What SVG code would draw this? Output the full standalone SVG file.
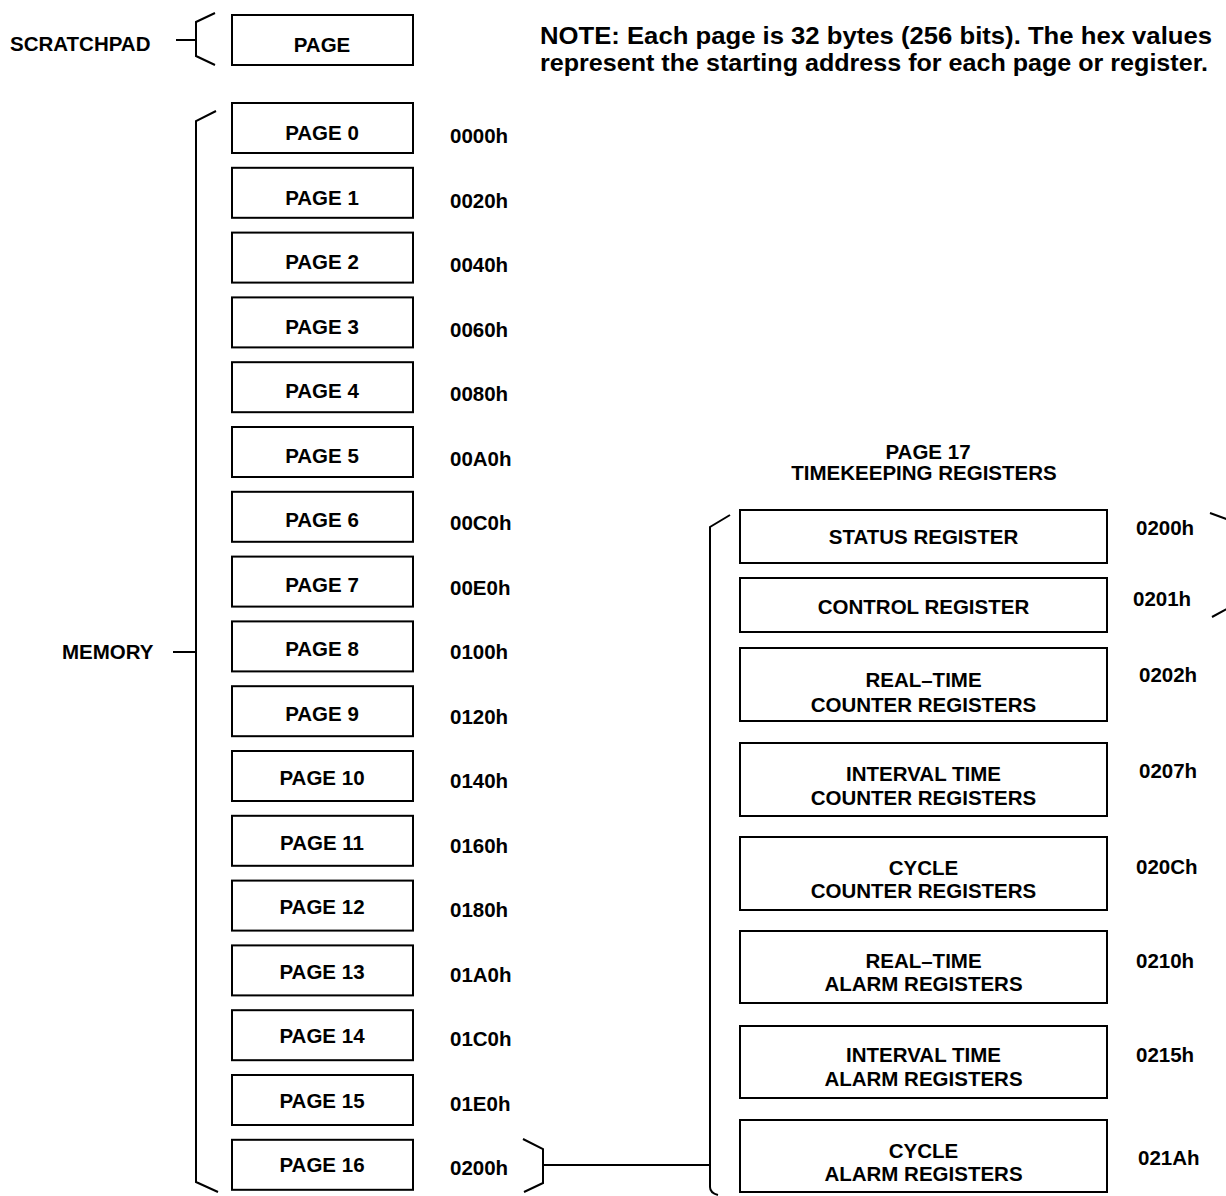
<svg xmlns="http://www.w3.org/2000/svg" width="1226" height="1196" viewBox="0 0 1226 1196">
<style>
.b{fill:#fff;stroke:#000;stroke-width:2}
.l{fill:none;stroke:#000;stroke-width:2}
.t{font-family:"Liberation Sans",Arial,sans-serif;font-weight:bold;font-size:20.5px;fill:#000}
.c{text-anchor:middle}
.n{font-family:"Liberation Sans",Arial,sans-serif;font-weight:bold;font-size:24px;fill:#000}
</style>
<rect width="1226" height="1196" fill="#fff"/>
<g id="note"><text class="n" x="540" y="44" textLength="672" lengthAdjust="spacingAndGlyphs">NOTE: Each page is 32 bytes (256 bits). The hex values</text><text class="n" x="540" y="71" textLength="668" lengthAdjust="spacingAndGlyphs">represent the starting address for each page or register.</text></g>
<g id="scratchpad-label"><text class="t" x="10" y="51">SCRATCHPAD</text></g>
<g id="memory-label"><text class="t" x="62" y="659">MEMORY</text></g>
<g id="page17-title"><text class="t c" x="928" y="459">PAGE 17</text><text class="t c" x="924" y="480">TIMEKEEPING REGISTERS</text></g>
<g id="scratch-page"><rect class="b" x="232" y="15" width="181" height="50"/><text class="t c" x="322" y="51.5">PAGE</text></g>
<g id="page0"><rect class="b" x="232" y="103" width="181" height="50"/><text class="t c" x="322" y="140">PAGE 0</text><text class="t" x="450" y="143">0000h</text></g>
<g id="page1"><rect class="b" x="232" y="167.8" width="181" height="50"/><text class="t c" x="322" y="204.5">PAGE 1</text><text class="t" x="450" y="207.5">0020h</text></g>
<g id="page2"><rect class="b" x="232" y="232.6" width="181" height="50"/><text class="t c" x="322" y="269">PAGE 2</text><text class="t" x="450" y="272">0040h</text></g>
<g id="page3"><rect class="b" x="232" y="297.4" width="181" height="50"/><text class="t c" x="322" y="333.5">PAGE 3</text><text class="t" x="450" y="336.5">0060h</text></g>
<g id="page4"><rect class="b" x="232" y="362.2" width="181" height="50"/><text class="t c" x="322" y="398">PAGE 4</text><text class="t" x="450" y="401">0080h</text></g>
<g id="page5"><rect class="b" x="232" y="427" width="181" height="50"/><text class="t c" x="322" y="462.5">PAGE 5</text><text class="t" x="450" y="465.5">00A0h</text></g>
<g id="page6"><rect class="b" x="232" y="491.8" width="181" height="50"/><text class="t c" x="322" y="527">PAGE 6</text><text class="t" x="450" y="530">00C0h</text></g>
<g id="page7"><rect class="b" x="232" y="556.6" width="181" height="50"/><text class="t c" x="322" y="591.5">PAGE 7</text><text class="t" x="450" y="594.5">00E0h</text></g>
<g id="page8"><rect class="b" x="232" y="621.4" width="181" height="50"/><text class="t c" x="322" y="656">PAGE 8</text><text class="t" x="450" y="659">0100h</text></g>
<g id="page9"><rect class="b" x="232" y="686.2" width="181" height="50"/><text class="t c" x="322" y="720.5">PAGE 9</text><text class="t" x="450" y="723.5">0120h</text></g>
<g id="page10"><rect class="b" x="232" y="751" width="181" height="50"/><text class="t c" x="322" y="785">PAGE 10</text><text class="t" x="450" y="788">0140h</text></g>
<g id="page11"><rect class="b" x="232" y="815.8" width="181" height="50"/><text class="t c" x="322" y="849.5">PAGE 11</text><text class="t" x="450" y="852.5">0160h</text></g>
<g id="page12"><rect class="b" x="232" y="880.6" width="181" height="50"/><text class="t c" x="322" y="914">PAGE 12</text><text class="t" x="450" y="917">0180h</text></g>
<g id="page13"><rect class="b" x="232" y="945.4" width="181" height="50"/><text class="t c" x="322" y="978.5">PAGE 13</text><text class="t" x="450" y="981.5">01A0h</text></g>
<g id="page14"><rect class="b" x="232" y="1010.2" width="181" height="50"/><text class="t c" x="322" y="1043">PAGE 14</text><text class="t" x="450" y="1046">01C0h</text></g>
<g id="page15"><rect class="b" x="232" y="1075" width="181" height="50"/><text class="t c" x="322" y="1107.5">PAGE 15</text><text class="t" x="450" y="1110.5">01E0h</text></g>
<g id="page16"><rect class="b" x="232" y="1139.8" width="181" height="50"/><text class="t c" x="322" y="1172">PAGE 16</text><text class="t" x="450" y="1175">0200h</text></g>
<g id="reg-status"><rect class="b" x="740" y="510" width="367" height="53"/><text class="t c" x="923.5" y="544">STATUS REGISTER</text><text class="t" x="1136" y="535">0200h</text></g>
<g id="reg-control"><rect class="b" x="740" y="578" width="367" height="54"/><text class="t c" x="923.5" y="614">CONTROL REGISTER</text><text class="t" x="1133" y="606">0201h</text></g>
<g id="reg-rtc"><rect class="b" x="740" y="648" width="367" height="73"/><text class="t c" x="923.5" y="687">REAL–TIME</text><text class="t c" x="923.5" y="712">COUNTER REGISTERS</text><text class="t" x="1139" y="682">0202h</text></g>
<g id="reg-itc"><rect class="b" x="740" y="743" width="367" height="73"/><text class="t c" x="923.5" y="781">INTERVAL TIME</text><text class="t c" x="923.5" y="805">COUNTER REGISTERS</text><text class="t" x="1139" y="778">0207h</text></g>
<g id="reg-cc"><rect class="b" x="740" y="837" width="367" height="73"/><text class="t c" x="923.5" y="875">CYCLE</text><text class="t c" x="923.5" y="898">COUNTER REGISTERS</text><text class="t" x="1136" y="874">020Ch</text></g>
<g id="reg-rta"><rect class="b" x="740" y="931" width="367" height="72"/><text class="t c" x="923.5" y="968">REAL–TIME</text><text class="t c" x="923.5" y="991">ALARM REGISTERS</text><text class="t" x="1136" y="968">0210h</text></g>
<g id="reg-ita"><rect class="b" x="740" y="1026" width="367" height="72"/><text class="t c" x="923.5" y="1062">INTERVAL TIME</text><text class="t c" x="923.5" y="1086">ALARM REGISTERS</text><text class="t" x="1136" y="1062">0215h</text></g>
<g id="reg-ca"><rect class="b" x="740" y="1120" width="367" height="72"/><text class="t c" x="923.5" y="1158">CYCLE</text><text class="t c" x="923.5" y="1181">ALARM REGISTERS</text><text class="t" x="1138" y="1165">021Ah</text></g>
<g id="connectors">
<path class="l" d="M176,40 H196 M215,13 L196,22 V56 L215,65"/>
<path class="l" d="M173,652 H196 M216,111 L196,121 V1182 L218,1192"/>
<path class="l" d="M523,1139 L543,1149 V1183 L524,1192"/>
<path class="l" d="M543,1165 H710"/>
<path class="l" d="M730,515 L710,527 V1187 Q710,1193 718,1195"/>
<path class="l" d="M1210,513 L1232,521 V606 L1212,617"/>
</g>
</svg>
